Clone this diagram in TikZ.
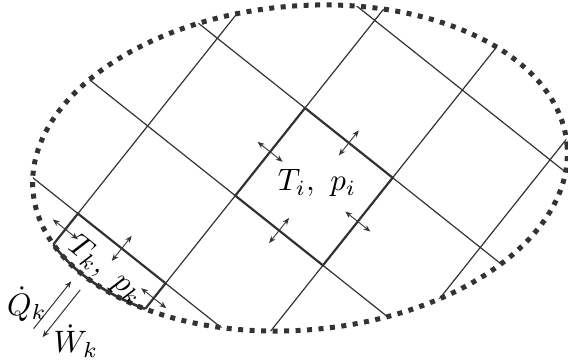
\documentclass[tikz,border=0pt]{standalone}
\usetikzlibrary{arrows.meta,calc}
\begin{document}
\begin{tikzpicture}[x=1pt,y=-1pt,
  gridline/.style={line width=1.2pt, draw=black!80},
  celledge/.style={line width=2.2pt, draw=black!80},
  flux/.style={line width=0.9pt, draw=black!80, {Stealth[length=7pt,width=5.5pt]}-{Stealth[length=7pt,width=5.5pt]}},
  heat/.style={line width=1pt, draw=black!80, -{Stealth[length=7pt,width=5.5pt]}},
  lbl/.style={inner sep=0pt, scale=3.1},
  rim/.style={rotate around={5:(300,168)}},
  gridsys/.style={shift={(305,108)}, x={(87.65pt,-69.72pt)}, y={(-69.72pt,-87.65pt)}}]
\useasboundingbox (0,0) rectangle (568,361);

% grid coordinates
\begin{scope}[gridsys]
  \coordinate (k1) at (-1,2);
  \coordinate (k2) at (0,2);
  \coordinate (k3) at (0,4);
  \coordinate (k4) at (-1,4);
  \coordinate (qa) at (-0.67,3.05);
  \coordinate (qb) at (-0.67,2.51);
  \coordinate (wa) at (-0.56,2.52);
  \coordinate (wb) at (-0.56,3.06);
\end{scope}

% grid clipped to the region
\begin{scope}
  \path[clip, rim] (300,168) ellipse [x radius=268, y radius=162];
  \begin{scope}[gridsys]
    \foreach \n in {-1,0,1,2} \draw[gridline] (\n,-3) -- (\n,4);
    \foreach \m in {-1,0,1,2} \draw[gridline] (-3,\m) -- (4,\m);
    % cell i
    \draw[celledge] (0,0) -- (1,0) -- (1,1) -- (0,1) -- cycle;
    % cell k
    \draw[celledge] (-1,3) -- (-1,2) -- (0,2) -- (0,3);
  \end{scope}
\end{scope}

% cell k boundary along the rim
\begin{scope}
  \clip (k1) -- (k2) -- (k3) -- (k4) -- cycle;
  \draw[rim, line width=2.6pt, draw=black!80] (300,168) ellipse [x radius=268, y radius=162];
\end{scope}

% dotted rim
\draw[rim, line width=5pt, draw=black!80, dash pattern=on 5pt off 6.5pt]
  (300,168) ellipse [x radius=268, y radius=162];

% exchange arrows
\begin{scope}[gridsys]
  \draw[flux] (-0.143,0.5) -- (0.143,0.5);
  \draw[flux] (0.857,0.5) -- (1.143,0.5);
  \draw[flux] (0.5,-0.143) -- (0.5,0.143);
  \draw[flux] (0.5,0.857) -- (0.5,1.143);
  \draw[flux] (-1.143,2.18) -- (-0.857,2.18);
  \draw[flux] (-0.5,1.857) -- (-0.5,2.143);
  \draw[flux] (-0.143,2.17) -- (0.143,2.17);
\end{scope}
\draw[heat] (qa) -- (qb);
\draw[heat] (wa) -- (wb);

% labels
\node[lbl] (ti) at (317,183) {$T_i,\ p_i$};
\node[lbl, rotate=-38.5] (tk) at (106,270) {$T_k,\ p_k$};
\node[lbl] (qk) at (27,304) {$\dot Q_k$};
\node[lbl] (wk) at (76,341) {$\dot W_k$};
\end{tikzpicture}
\end{document}
